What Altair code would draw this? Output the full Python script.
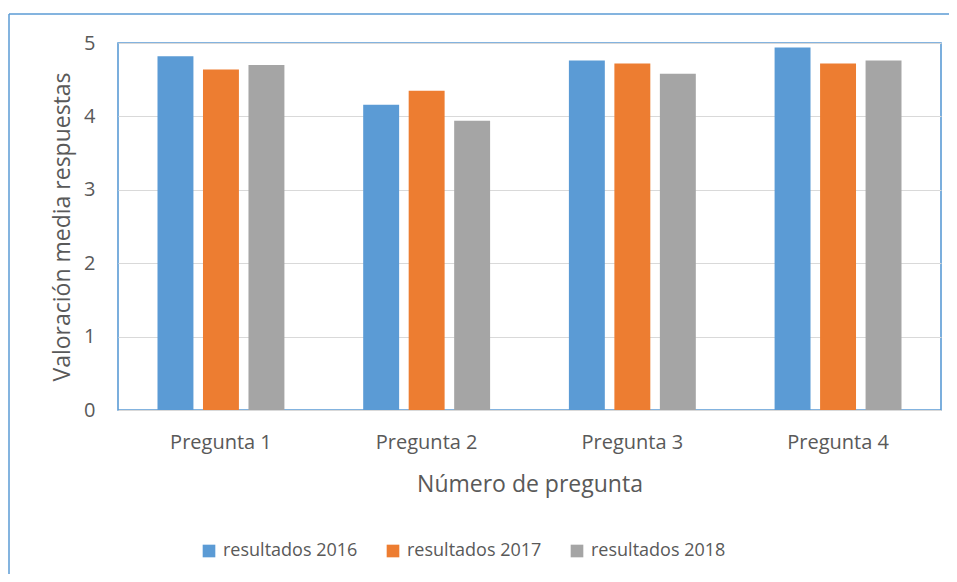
import altair as alt
import pandas as pd

preguntas = ["Pregunta 1", "Pregunta 2", "Pregunta 3", "Pregunta 4"]
series = ["resultados 2016", "resultados 2017", "resultados 2018"]
r2016 = [4.82, 4.16, 4.76, 4.94]
r2017 = [4.64, 4.35, 4.72, 4.72]
r2018 = [4.70, 3.94, 4.58, 4.76]
colores = ["#5B9BD5", "#ED7D31", "#A5A5A5"]
y_ticks = [0, 1, 2, 3, 4, 5]

rows = []
for s, vals in zip(series, [r2016, r2017, r2018]):
    for p, v in zip(preguntas, vals):
        rows.append({"pregunta": p, "serie": s, "valor": v})
df = pd.DataFrame(rows)

FONT = "Open Sans"
TXT = "#595959"

bars = alt.Chart(df).mark_bar().encode(
    x=alt.X("pregunta:N", sort=preguntas,
            scale=alt.Scale(paddingInner=0.383, paddingOuter=0.192),
            axis=alt.Axis(title="Número de pregunta", labelAngle=0, ticks=False, tickSize=0,
                          domain=False, labelPadding=22, labelFontSize=20,
                          titleFontSize=23, titleY=81, titleBaseline="alphabetic")),
    xOffset=alt.XOffset("serie:N", sort=series,
                        scale=alt.Scale(paddingInner=0.21, paddingOuter=0)),
    y=alt.Y("valor:Q", scale=alt.Scale(domain=[0, 5], nice=False),
            axis=alt.Axis(title="Valoración media respuestas", values=y_ticks, ticks=False,
                          tickSize=0, domain=False, labelPadding=23, labelFontSize=20,
                          titleFontSize=23, titleX=-49, titleBaseline="alphabetic",
                          gridColor="#D9D9D9", gridWidth=1)),
    color=alt.Color("serie:N", sort=series,
                    scale=alt.Scale(domain=series, range=colores),
                    legend=alt.Legend(title=None, orient="none", direction="horizontal",
                                      legendX=82, legendY=499, symbolType="square",
                                      symbolSize=160, symbolStrokeWidth=0,
                                      labelFontSize=18, labelOffset=5,
                                      columnPadding=26, padding=0)),
)

frame_data = alt.Data(values=[{"k": 1}])
left_line = alt.Chart(frame_data).mark_rule(color="#5B9BD5", strokeWidth=1.5).encode(
    x=alt.value(-109), y=alt.value(-29), y2=alt.value(620))
top_line = alt.Chart(frame_data).mark_rule(color="#5B9BD5", strokeWidth=1.5).encode(
    x=alt.value(-109), x2=alt.value(900), y=alt.value(-29))

chart = alt.layer(bars, left_line, top_line).properties(
    width=823, height=367,
    autosize=alt.AutoSizeParams(type="none"),
    padding={"left": 110, "top": 35, "right": 8, "bottom": 164},
).configure(
    font=FONT,
    background="white",
).configure_view(
    stroke="#5B9BD5", strokeWidth=1.6,
).configure_axis(
    labelColor=TXT, titleColor=TXT, labelFont=FONT, titleFont=FONT,
    titleFontWeight="normal",
).configure_legend(
    labelColor=TXT, labelFont=FONT,
)

chart.save("out.html", embed_options={"renderer": "svg", "actions": False})
